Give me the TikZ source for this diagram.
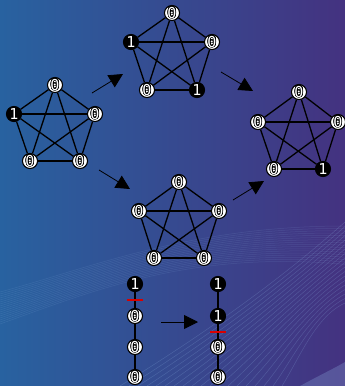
\documentclass[tikz,border=0pt]{standalone}
\usepackage{fontspec}
\newfontfamily\digfont{DejaVu Sans Mono}
\usepackage{contour}
\contourlength{0.7pt}
\usetikzlibrary{arrows.meta}
\definecolor{bgL}{RGB}{40,98,160}
\definecolor{bgR}{RGB}{68,50,128}
\definecolor{wavec}{RGB}{150,190,235}
\begin{document}
\begin{tikzpicture}[x=1pt,y=-1pt,
  zero/.style={circle,draw=black,fill=white,line width=1.1pt,minimum size=15pt,inner sep=0pt,
    font=\digfont\fontsize{15}{15}\selectfont,text=white},
  one/.style={circle,draw=black,fill=black,line width=1.1pt,minimum size=15pt,inner sep=0pt,
    font=\digfont\fontsize{15}{15}\selectfont,text=white},
  edge/.style={line width=1.3pt,black},
  trans/.style={-{Triangle[length=14pt,width=14pt]},line width=0.8pt,black},
  cut/.style={red!85!black,line width=1.6pt},
  wave/.style={wavec,opacity=0.14,line width=0.5pt},
  wavetwo/.style={wavec,opacity=0.22,line width=0.5pt}]
\useasboundingbox (0,0) rectangle (345,386);
\shade[left color=bgL,right color=bgR] (0,0) rectangle (345,386);
% decorative waves
\foreach \k in {0,...,16}{
  \draw[wave] (0,{292+\k*2}) .. controls (90,{268+\k*1.5}) and (190,{226+\k*1.5}) .. (345,{226+\k*2.4});
}
\foreach \k in {0,...,18}{
  \draw[wavetwo] ({120+\k*9},386) .. controls ({210+\k*5},{330+\k*1.5}) and ({280+\k*2},{280+\k*2}) .. (345,{222+\k*4.5});
}
\fill[wavec,opacity=0.25] (300,386) .. controls (320,375) and (335,368) .. (345,362) -- (345,386) -- cycle;
% graph A
\node[zero] (a1) at (55,85) {\contour{black}{0}};
\node[one]  (a2) at (14,114) {1};
\node[zero] (a3) at (95,114) {\contour{black}{0}};
\node[zero] (a4) at (30,161) {\contour{black}{0}};
\node[zero] (a5) at (80,161) {\contour{black}{0}};
% graph B
\node[zero] (b1) at (172,13) {\contour{black}{0}};
\node[one]  (b2) at (131,42) {1};
\node[zero] (b3) at (212,42) {\contour{black}{0}};
\node[zero] (b4) at (147,90) {\contour{black}{0}};
\node[one]  (b5) at (197,90) {1};
% graph C
\node[zero] (c1) at (299,92) {\contour{black}{0}};
\node[zero] (c2) at (258,122) {\contour{black}{0}};
\node[zero] (c3) at (338,122) {\contour{black}{0}};
\node[zero] (c4) at (274,169) {\contour{black}{0}};
\node[one]  (c5) at (323,169) {1};
% graph D
\node[zero] (d1) at (179,182) {\contour{black}{0}};
\node[zero] (d2) at (139,211) {\contour{black}{0}};
\node[zero] (d3) at (219,211) {\contour{black}{0}};
\node[zero] (d4) at (154,258) {\contour{black}{0}};
\node[zero] (d5) at (204,258) {\contour{black}{0}};
\foreach \g in {a,b,c,d}{
  \foreach \i/\j in {1/2,1/3,1/4,1/5,2/3,2/4,2/5,3/4,3/5,4/5}{
    \draw[edge] (\g\i) -- (\g\j);
  }
}
% chains
\node[one]  (l1) at (135,284) {1};
\node[zero] (l2) at (135,316) {\contour{black}{0}};
\node[zero] (l3) at (135,347) {\contour{black}{0}};
\node[zero] (l4) at (135,377) {\contour{black}{0}};
\node[one]  (r1) at (218,284) {1};
\node[one]  (r2) at (218,316) {1};
\node[zero] (r3) at (218,347) {\contour{black}{0}};
\node[zero] (r4) at (218,377) {\contour{black}{0}};
\draw[edge] (l1) -- (l2);
\draw[edge] (l2) -- (l3);
\draw[edge] (l3) -- (l4);
\draw[edge] (r1) -- (r2);
\draw[edge] (r2) -- (r3);
\draw[edge] (r3) -- (r4);
\draw[cut] (127,300) -- (143,300);
\draw[cut] (210,332) -- (226,332);
% transition arrows
\coordinate (t1s) at (92,93);   \coordinate (t1e) at (123,74);
\coordinate (t2s) at (99,170);  \coordinate (t2e) at (130,189);
\coordinate (t3s) at (221,72);  \coordinate (t3e) at (253,91);
\coordinate (t4s) at (233,200); \coordinate (t4e) at (264,181);
\coordinate (t5s) at (161,322); \coordinate (t5e) at (198,322);
\draw[trans] (t1s) -- (t1e);
\draw[trans] (t2s) -- (t2e);
\draw[trans] (t3s) -- (t3e);
\draw[trans] (t4s) -- (t4e);
\draw[trans] (t5s) -- (t5e);
\end{tikzpicture}
\end{document}
